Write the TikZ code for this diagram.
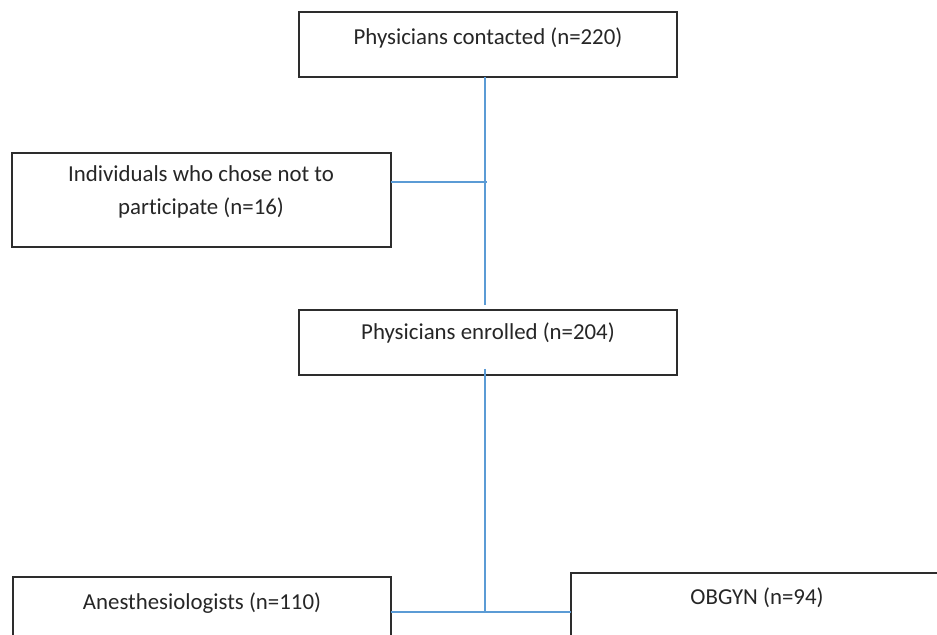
\documentclass[tikz,border=0pt]{standalone}
\usepackage{fontspec}
\setmainfont[Ligatures=NoCommon]{Carlito}
\definecolor{linkblue}{RGB}{91,155,213}
\definecolor{boxgray}{RGB}{45,45,45}
\tikzset{
	box/.style={draw=boxgray, line width=1pt, inner sep=0pt, outer sep=0pt, fill=white},
	txt/.style={inner sep=0pt, align=center, text=black!85, font=\fontsize{13}{18.7}\selectfont},
	link/.style={draw=linkblue, line width=0.8pt}
}
\begin{document}
\begin{tikzpicture}[x=0.02cm, y=-0.02cm]
		\useasboundingbox (0,0) rectangle (937,635);
		\clip (0,0) rectangle (937,635);
		\node[box, minimum width=7.56cm, minimum height=1.3cm] (contacted) at (488,44.5) {};
		\node[box, minimum width=7.58cm, minimum height=1.88cm] (declined) at (201.5,200) {};
		\node[box, minimum width=7.56cm, minimum height=1.3cm] (enrolled) at (488,342.5) {};
		\node[box, minimum width=7.56cm, minimum height=1.88cm] (anesth) at (202,624) {};
		\node[box, minimum width=7.44cm, minimum height=1.88cm] (obgyn) at (757,620) {};
		\node[txt] (contactedtxt) at (488,38) {Physicians contacted (n=220)};
		\node[txt] (declinedtxt) at (201,191.5) {Individuals who chose not to\\participate (n=16)};
		\node[txt] (enrolledtxt) at (488,333) {Physicians enrolled (n=204)};
		\node[txt] (anesthtxt) at (202,603) {Anesthesiologists (n=110)};
		\node[txt] (obgyntxt) at (757,598) {OBGYN (n=94)};
		\coordinate (topjoin) at (485,182);
		\coordinate (botjoin) at (485,612);
		\draw[link, shorten >=0.1cm] (contacted.south -| topjoin) -- (enrolled.north -| topjoin);
		\draw[link] (declined.east |- topjoin) -- ([xshift=0.04cm]topjoin);
		\draw[link, shorten <=-0.12cm] (enrolled.south -| botjoin) -- (botjoin);
		\draw[link] (anesth.east |- botjoin) -- (obgyn.west |- botjoin);
	\end{tikzpicture}
\end{document}
